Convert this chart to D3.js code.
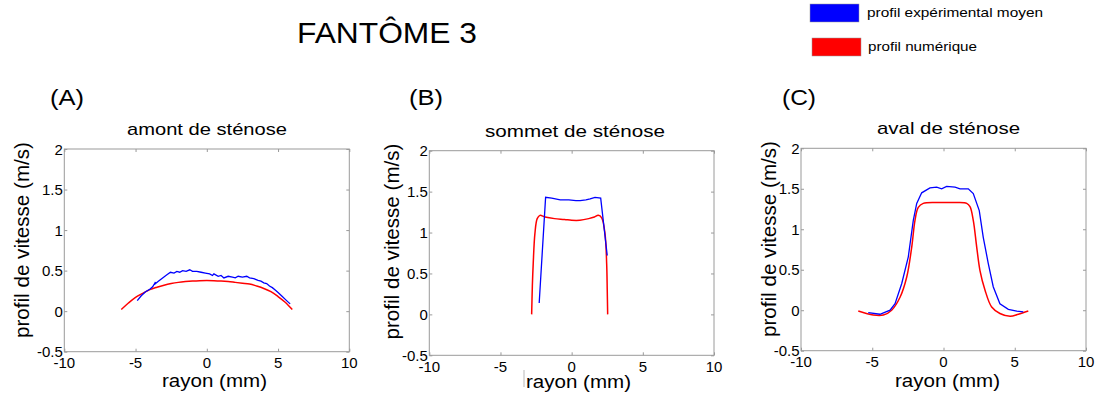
<!DOCTYPE html>
<html><head><meta charset="utf-8">
<script src="https://cdn.jsdelivr.net/npm/d3@7"></script>
<style>body{margin:0;background:#fff}svg{display:block}text{font-family:"Liberation Sans",Arial,sans-serif;fill:#000}</style>
</head><body>
<svg id="chart" width="1099" height="394"></svg>
<script>
// ---- data ----
const xTicks = [-10, -5, 0, 5, 10];
const yTicks = [-0.5, 0, 0.5, 1, 1.5, 2];
const xTickLabels = ["-10", "-5", "0", "5", "10"];
const yTickLabels = ["-0.5", "0", "0.5", "1", "1.5", "2"];
const panelLetters = ["(A)", "(B)", "(C)"];
const panelTitles = ["amont de sténose", "sommet de sténose", "aval de sténose"];
const legendLabels = ["profil expérimental moyen", "profil numérique"];

const blueAx = [-4.88,-4.6,-4.3,-4.0,-3.8,-3.6,-3.68,-3.4,-3.1,-2.8,-2.55,-2.3,-2.1,-1.9,-1.7,-1.45,-1.2,-1.0,-0.7,-0.4,-0.1,0.2,0.4,0.5,0.8,1.0,1.2,1.5,1.8,2.0,2.2,2.5,2.8,3.0,3.3,3.6,3.8,4.0,4.2,4.4,4.6,4.8,5.0,5.3,5.6,5.85];
const blueAy = [0.13,0.19,0.24,0.27,0.30,0.36,0.33,0.37,0.41,0.45,0.48,0.47,0.49,0.48,0.50,0.49,0.51,0.49,0.49,0.48,0.47,0.46,0.44,0.46,0.43,0.44,0.41,0.43,0.42,0.41,0.43,0.42,0.43,0.41,0.40,0.38,0.37,0.35,0.34,0.31,0.29,0.26,0.23,0.18,0.13,0.09];
const redAx = [-6,-5.5,-5,-4.5,-4,-3.5,-3,-2.5,-2,-1.5,-1,-0.5,0,0.5,1,1.5,2,2.5,3,3.5,4,4.5,5,5.5,6];
const redAy = [0.02,0.10,0.17,0.22,0.265,0.295,0.32,0.34,0.355,0.365,0.372,0.376,0.377,0.376,0.372,0.365,0.355,0.345,0.335,0.31,0.28,0.24,0.18,0.11,0.02];

const blueBx = [-2.28,-1.83,-1.4,-0.8,-0.2,0.3,0.6,1.0,1.3,1.64,2.04,2.5];
const blueBy = [0.14,1.43,1.42,1.40,1.40,1.39,1.39,1.40,1.41,1.43,1.42,0.72];
const redBx = [-2.81,-2.76,-2.70,-2.58,-2.42,-2.23,-1.87,-1.2,-0.5,0,0.58,1.2,1.6,1.87,2.11,2.34,2.46,2.50,2.53];
const redBy = [0,0.35,0.62,0.99,1.17,1.21,1.19,1.17,1.16,1.15,1.15,1.17,1.19,1.21,1.18,0.99,0.62,0.30,0];

const blueCx = [-5.28,-4.46,-3.75,-3.40,-2.93,-2.47,-2.12,-1.88,-1.53,-0.95,-0.48,-0.13,0.22,0.81,1.16,1.74,2.09,2.51,2.79,3.14,3.49,3.96,4.55,5.14,5.6];
const blueCy = [-0.03,-0.05,0,0.08,0.33,0.66,1.11,1.32,1.45,1.51,1.52,1.50,1.53,1.52,1.50,1.50,1.44,1.23,0.90,0.58,0.29,0.08,0.01,-0.01,-0.02];
const redCx = [-5.98,-4.93,-4.22,-3.64,-3.05,-2.58,-2.23,-2.0,-1.77,-1.42,-0.25,0.93,1.63,1.86,2.09,2.33,2.56,2.91,3.38,3.96,4.67,5.25,5.95];
const redCy = [-0.01,-0.06,-0.06,0,0.16,0.41,0.78,1.11,1.27,1.32,1.33,1.33,1.32,1.28,1.11,0.78,0.49,0.25,0.04,-0.04,-0.074,-0.05,-0.01];

const seriesData = [
  {blue: [blueAx, blueAy], red: [redAx, redAy]},
  {blue: [blueBx, blueBy], red: [redBx, redBy]},
  {blue: [blueCx, blueCy], red: [redCx, redCy]}
];

// ---- layout ----
const panels = [
  {l: 64.3, r: 349.3, t: 149, b: 351.7, letterX: 50, titleX: 127, titleW: 160, titleY: 135, xlabX: 162, xlabY: 387, ylabX: 29, ylabCY: 240},
  {l: 429.3, r: 714, t: 150.7, b: 355.3, letterX: 409, titleX: 485, titleW: 180, titleY: 136.5, xlabX: 526, xlabY: 388, ylabX: 399, ylabCY: 241.5},
  {l: 801, r: 1086, t: 148.3, b: 350.7, letterX: 782, titleX: 877, titleW: 143, titleY: 133.5, xlabX: 895, xlabY: 386.5, ylabX: 776, ylabCY: 239}
];
const BLUE = "#0000ff", RED = "#ff0000", AXIS = "#9a9a9a";

const svg = d3.select("#chart");

// title
svg.append("text").attr("x", 297).attr("y", 43).attr("font-size", 29)
  .attr("textLength", 180).attr("lengthAdjust", "spacingAndGlyphs").text("FANTÔME 3");

// legend
const legColors = [BLUE, RED];
const legRects = [{x: 810, y: 4}, {x: 812, y: 38}];
const legText = [{x: 867, y: 17, w: 176}, {x: 868, y: 51, w: 109}];
legendLabels.forEach((lab, i) => {
  svg.append("rect").attr("x", legRects[i].x).attr("y", legRects[i].y).attr("width", 49).attr("height", 18)
    .attr("fill", legColors[i]).attr("stroke", "#999").attr("stroke-width", 0.5);
  svg.append("text").attr("x", legText[i].x).attr("y", legText[i].y).attr("font-size", 13.5)
    .attr("textLength", legText[i].w).attr("lengthAdjust", "spacingAndGlyphs").text(lab);
});

panels.forEach((p, i) => {
  const x = d3.scaleLinear().domain([xTicks[0], xTicks[xTicks.length - 1]]).range([p.l, p.r]);
  const y = d3.scaleLinear().domain([yTicks[0], yTicks[yTicks.length - 1]]).range([p.b, p.t]);
  const g = svg.append("g");

  // box
  g.append("rect").attr("x", p.l).attr("y", p.t).attr("width", p.r - p.l).attr("height", p.b - p.t)
    .attr("fill", "none").attr("stroke", AXIS).attr("stroke-width", 1);

  // axes with inward ticks
  const axB = d3.axisBottom(x).tickValues(xTicks).tickSize(-3).tickFormat("");
  const axT = d3.axisTop(x).tickValues(xTicks).tickSize(-3).tickFormat("");
  const axL = d3.axisLeft(y).tickValues(yTicks).tickSize(-3).tickFormat("");
  const axR = d3.axisRight(y).tickValues(yTicks).tickSize(-3).tickFormat("");
  [[axB, `translate(0,${p.b})`], [axT, `translate(0,${p.t})`], [axL, `translate(${p.l},0)`], [axR, `translate(${p.r},0)`]]
    .forEach(([ax, tr]) => {
      const a = g.append("g").attr("transform", tr).call(ax);
      a.select(".domain").remove();
      a.selectAll("line").attr("stroke", AXIS);
    });

  // tick labels
  xTicks.forEach((v, k) => {
    g.append("text").attr("x", x(v)).attr("y", p.b + 16.5).attr("text-anchor", "middle")
      .attr("font-size", 15).text(xTickLabels[k]);
  });
  yTicks.forEach((v, k) => {
    g.append("text").attr("x", p.l - 1.5).attr("y", y(v) + 5.5).attr("text-anchor", "end")
      .attr("font-size", 15).text(yTickLabels[k]);
  });

  // labels
  g.append("text").attr("x", p.letterX).attr("y", 105).attr("font-size", 22)
    .attr("textLength", 34).attr("lengthAdjust", "spacingAndGlyphs").text(panelLetters[i]);
  g.append("text").attr("x", p.titleX).attr("y", p.titleY).attr("font-size", 17)
    .attr("textLength", p.titleW).attr("lengthAdjust", "spacingAndGlyphs").text(panelTitles[i]);
  g.append("text").attr("x", p.xlabX).attr("y", p.xlabY).attr("font-size", 17.5)
    .attr("textLength", 105).attr("lengthAdjust", "spacingAndGlyphs").text("rayon (mm)");
  g.append("text").attr("transform", `translate(${p.ylabX},${p.ylabCY}) rotate(-90)`)
    .attr("text-anchor", "middle").attr("font-size", 20.5)
    .attr("textLength", 196).attr("lengthAdjust", "spacingAndGlyphs").text("profil de vitesse (m/s)");

  // curves
  const s = seriesData[i];
  const redPts = d3.zip(s.red[0], s.red[1]);
  const bluePts = d3.zip(s.blue[0], s.blue[1]);
  g.append("path").attr("d", d3.line().x(d => x(d[0])).y(d => y(d[1])).curve(d3.curveCatmullRom)(redPts))
    .attr("fill", "none").attr("stroke", RED).attr("stroke-width", 1.5);
  g.append("path").attr("d", d3.line().x(d => x(d[0])).y(d => y(d[1]))(bluePts))
    .attr("fill", "none").attr("stroke", BLUE).attr("stroke-width", 1.3);
});

// faint mark before "rayon" in panel B
svg.append("line").attr("x1", 524).attr("x2", 524).attr("y1", 370).attr("y2", 387)
  .attr("stroke", "#d0d0d0").attr("stroke-width", 1.5);
</script>
</body></html>
